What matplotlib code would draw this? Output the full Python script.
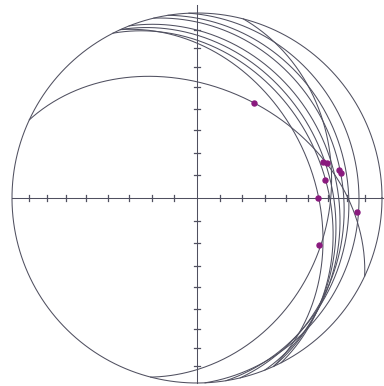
import numpy as np
import matplotlib
matplotlib.use("Agg")
import matplotlib.pyplot as plt

# planes (right hand rule strike, dip)
strike = [295, 357.5, 351, 346.5, 338.5, 335.6, 333, 335.5, 14.5]
dip = [40, 13.5, 19.3, 22.3, 26, 29.2, 31.9, 37.1, 29.3]

# lineations (trend, plunge)
trend = [31, 74, 75, 79, 80, 82, 90, 95, 111]
plunge = [40, 30, 28, 23, 22, 31, 35, 14, 30]

tick_angles = [10, 20, 30, 40, 50, 60, 70, 80]

line_col = '#505060'
dot_col = '#8a1a7e'

cx, cy, R = 197, 198, 185  # centre / radius in pixels


def project(tr, pl):
    # equal area (schmidt), lower hemisphere, unit primitive
    tr = np.radians(tr)
    pl = np.radians(pl)
    r = np.sqrt(2) * np.sin((np.pi / 2 - pl) / 2)
    return r * np.sin(tr), r * np.cos(tr)


def great_circle(s, d):
    s = np.radians(s)
    d = np.radians(d)
    rake = np.linspace(0, np.pi, 361)
    sv = np.array([np.sin(s), np.cos(s), 0])
    dv = np.array([np.cos(d) * np.sin(s + np.pi / 2), np.cos(d) * np.cos(s + np.pi / 2), np.sin(d)])
    v = np.outer(np.cos(rake), sv) + np.outer(np.sin(rake), dv)
    tr = np.degrees(np.arctan2(v[:, 0], v[:, 1]))
    pl = np.degrees(np.arcsin(np.clip(v[:, 2], -1, 1)))
    return project(tr, pl)


fig = plt.figure(figsize=(3.84, 3.86), dpi=100)
ax = fig.add_axes([0, 0, 1, 1])
ax.set_xlim(-cx / R, (384 - cx) / R)
ax.set_ylim((cy - 386) / R, cy / R)
ax.set_aspect('equal')
ax.axis('off')

# primitive
t = np.linspace(0, 2 * np.pi, 400)
ax.plot(np.cos(t), np.sin(t), color=line_col, lw=0.75)

# cross axes with ticks
ax.plot([-1, 1.02], [0, 0], color=line_col, lw=0.75)
ax.plot([0, 0], [-1.0, 1.045], color=line_col, lw=0.75)
tl = 0.016
for a in tick_angles:
    r = np.sqrt(2) * np.sin(np.radians(a) / 2)
    for sgn in (-1, 1):
        ax.plot([sgn * r, sgn * r], [-tl, tl], color=line_col, lw=0.9)
        ax.plot([-tl, tl], [sgn * r, sgn * r], color=line_col, lw=0.9)

for s, d in zip(strike, dip):
    x, y = great_circle(s, d)
    ax.plot(x, y, color=line_col, lw=0.75)

px, py = project(np.array(trend), np.array(plunge))
ax.plot(px, py, 'o', color=dot_col, ms=3.6, mec=dot_col)

fig.savefig('out.png', dpi=100, facecolor='white')
